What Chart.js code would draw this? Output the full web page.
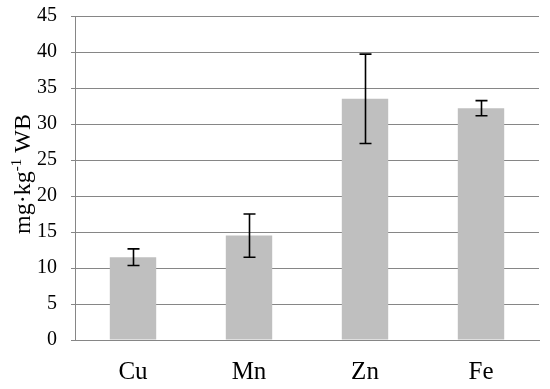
<!DOCTYPE html>
<html>
<head>
<meta charset="utf-8">
<script src="https://cdn.jsdelivr.net/npm/chart.js@4/dist/chart.umd.min.js"></script>
<style>
html,body{margin:0;padding:0;background:#fff;}
#wrap{width:550px;height:389px;position:relative;}
</style>
</head>
<body>
<div id="wrap"><canvas id="c" width="550" height="389"></canvas></div>
<script>
const categories = ["Cu", "Mn", "Zn", "Fe"];
const values = [11.5, 14.5, 33.5, 32.2];
const errors = [1.15, 3.0, 6.2, 1.05];
const yTicks = [0, 5, 10, 15, 20, 25, 30, 35, 40, 45];

const serif = '"Liberation Serif", "Times New Roman", serif';

const errorBarPlugin = {
  id: 'errorBars',
  afterDatasetsDraw(chart) {
    const ctx = chart.ctx;
    const meta = chart.getDatasetMeta(0);
    const y = chart.scales.y;
    ctx.save();
    ctx.strokeStyle = '#000';
    ctx.lineWidth = 1.6;
    meta.data.forEach((bar, i) => {
      const x = Math.round(bar.x) + 0.5;
      const yTop = y.getPixelForValue(values[i] + errors[i]);
      const yBot = y.getPixelForValue(values[i] - errors[i]);
      ctx.beginPath();
      ctx.moveTo(x, yTop); ctx.lineTo(x, yBot);
      ctx.moveTo(x - 6, yTop); ctx.lineTo(x + 6, yTop);
      ctx.moveTo(x - 6, yBot); ctx.lineTo(x + 6, yBot);
      ctx.stroke();
    });
    ctx.restore();
  }
};

const yTitlePlugin = {
  id: 'yTitle',
  afterDraw(chart) {
    const ctx = chart.ctx;
    ctx.save();
    ctx.translate(30, 174);
    ctx.rotate(-Math.PI / 2);
    ctx.fillStyle = '#000';
    ctx.textBaseline = 'alphabetic';
    ctx.textAlign = 'left';
    const big = '24px ' + serif;
    const small = '15px ' + serif;
    const p1 = 'mg\u00B7kg', p2 = '-1', p3 = ' WB';
    ctx.font = big; const w1 = ctx.measureText(p1).width; const w3 = ctx.measureText(p3).width;
    ctx.font = small; const w2 = ctx.measureText(p2).width;
    let x = -(w1 + w2 + w3) / 2;
    ctx.font = big; ctx.fillText(p1, x, 0); x += w1;
    ctx.font = small; ctx.fillText(p2, x, -9); x += w2;
    ctx.font = big; ctx.fillText(p3, x, 0);
    ctx.restore();
  }
};

new Chart(document.getElementById('c'), {
  type: 'bar',
  data: {
    labels: categories,
    datasets: [{
      data: values,
      backgroundColor: '#bfbfbf',
      borderWidth: 0,
      categoryPercentage: 1.0,
      barPercentage: 0.4
    }]
  },
  options: {
    responsive: false,
    animation: false,
    devicePixelRatio: 1,
    layout: { padding: { top: 16, right: 11, left: 0, bottom: 0 } },
    plugins: { legend: { display: false }, tooltip: { enabled: false } },
    scales: {
      x: {
        grid: { display: false },
        border: { display: true, color: '#868686', width: 1 },
        ticks: { color: '#000', font: { family: serif, size: 25 }, padding: 9 },
        afterFit(s) { s.height = 49; s.paddingLeft = 0; s.paddingRight = 0; }
      },
      y: {
        min: 0, max: 45,
        afterBuildTicks(s) { s.ticks = yTicks.map(v => ({ value: v })); },
        grid: { color: '#868686', lineWidth: 1, tickLength: 4, drawTicks: true },
        border: { display: true, color: '#868686', width: 1 },
        ticks: { color: '#000', font: { family: serif, size: 20 }, padding: 14 },
        afterFit(s) { s.width = 75; s.paddingTop = 0; s.paddingBottom = 0; }
      }
    }
  },
  plugins: [errorBarPlugin, yTitlePlugin]
});
</script>
</body>
</html>
